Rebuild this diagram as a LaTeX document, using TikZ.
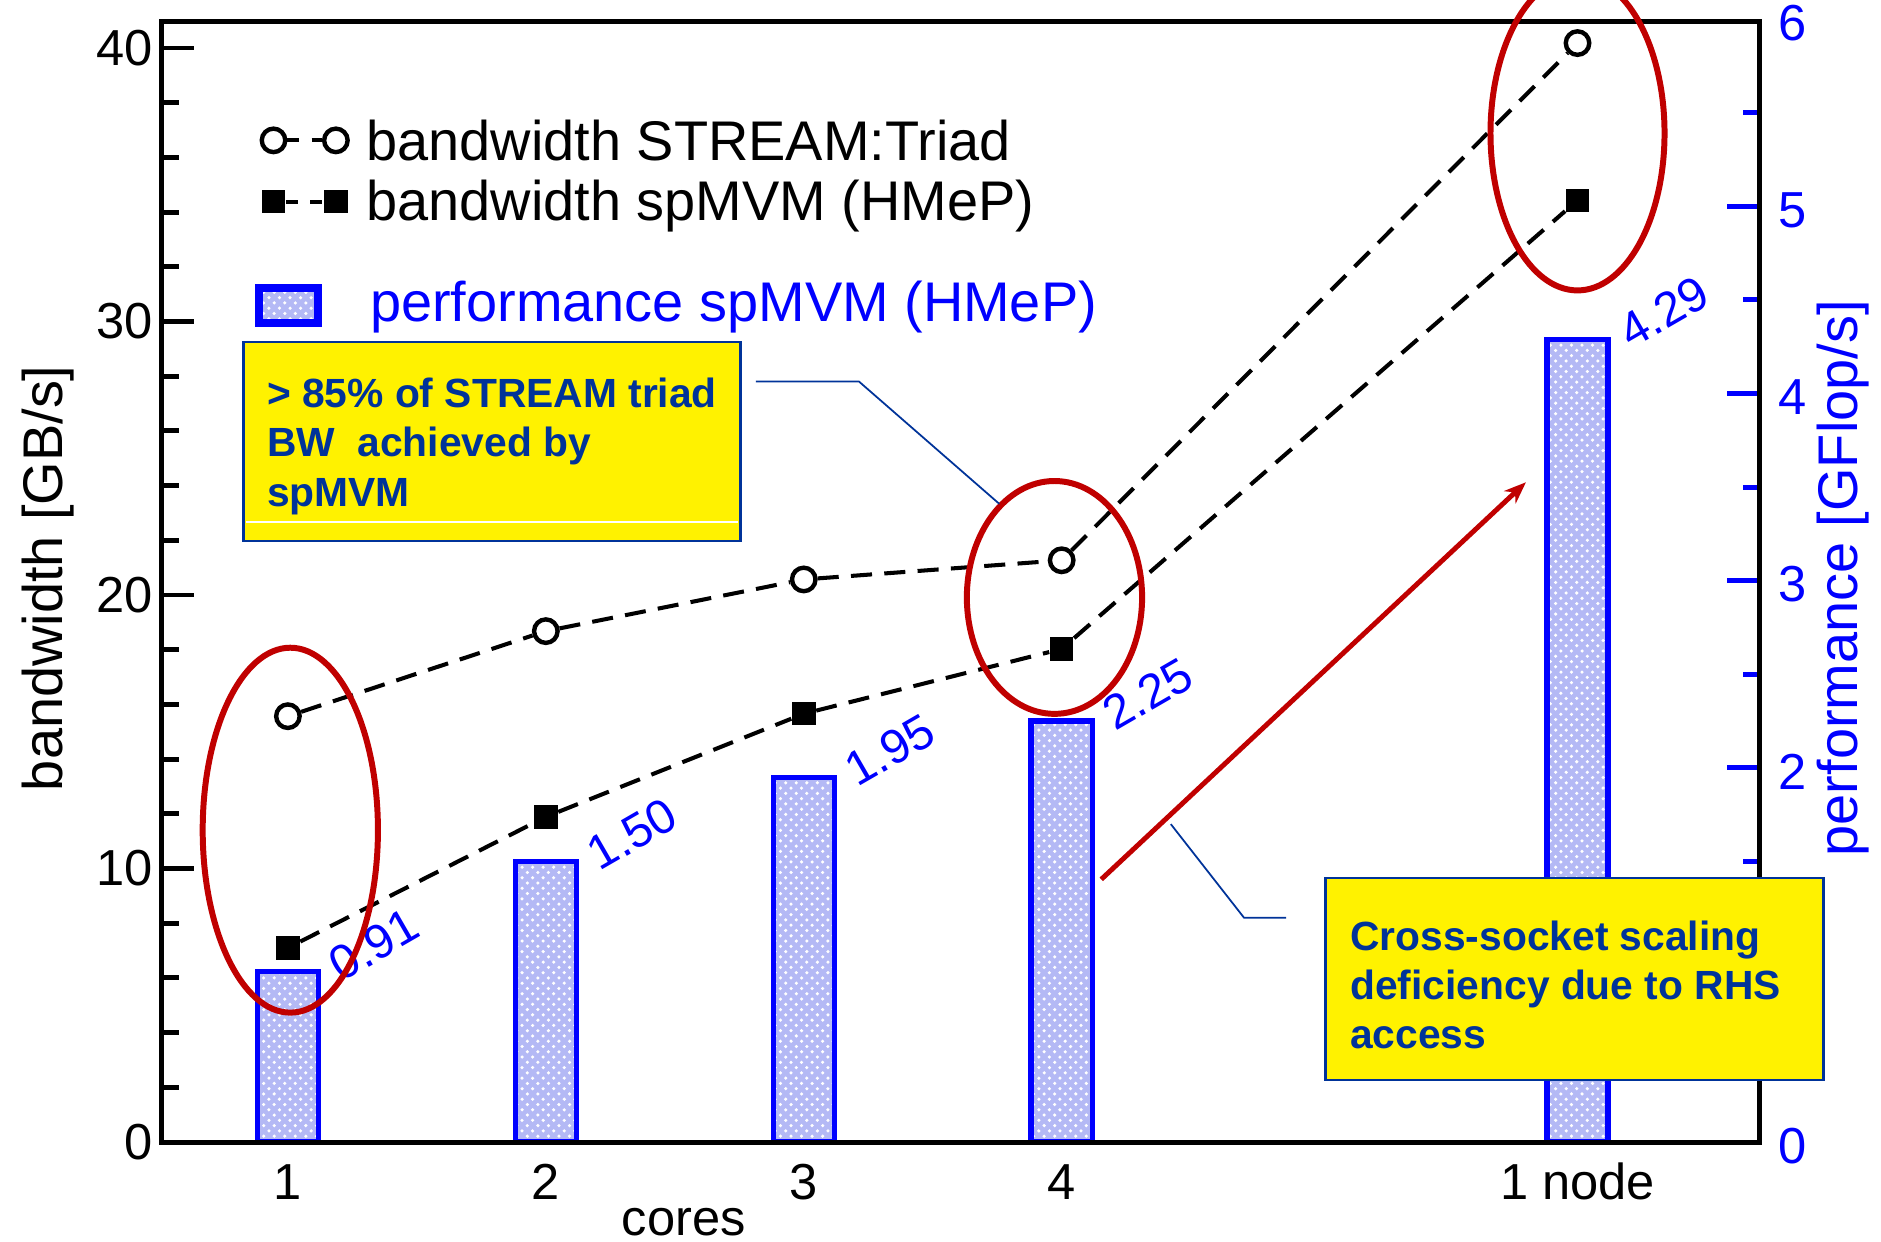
\documentclass[tikz,border=0pt]{standalone}
\usepackage{fontspec}
\setmainfont{Liberation Sans}
\usetikzlibrary{patterns,arrows.meta}
\definecolor{dkred}{RGB}{192,0,0}
\definecolor{callblue}{RGB}{0,51,153}
\definecolor{axblue}{RGB}{0,0,255}
\definecolor{barfill}{RGB}{180,185,245}
\newcommand\mylegfont{\fontsize{15.9}{19}\selectfont}
\newcommand\mytickfont{\fontsize{14.4}{17}\selectfont}
\newcommand\myvalfont{\fontsize{13.7}{16}\selectfont}
\newcommand\myboxfont{\fontsize{11.6}{14}\selectfont\bfseries}
\tikzset{
  frameline/.style={line width=1.4pt},
  tickline/.style={line width=1.4pt},
  rtick/.style={line width=1.4pt, draw=axblue},
  dashline/.style={line width=1.15pt, dash pattern=on 6pt off 3.5pt},
  legdash/.style={line width=1.15pt, dash pattern=on 3.3pt off 3.6pt},
  circmark/.style={circle, draw, fill=white, line width=1.25pt, minimum size=0.235cm, inner sep=0pt},
  sqmark/.style={rectangle, fill=black, minimum size=0.235cm, inner sep=0pt},
  barstyle/.style={draw=axblue, line width=1.5pt, preaction={fill=barfill}, preaction={pattern=crosshatch dots, pattern color=white}},
  redell/.style={draw=dkred, line width=1.7pt},
  ybox/.style={rectangle, draw=callblue, line width=0.7pt, fill=yellow, inner sep=0pt},
  calloutline/.style={draw=callblue, line width=0.5pt},
  boxtext/.style={font=\myboxfont, text=callblue, align=left, inner sep=0pt, anchor=west},
  lticklabel/.style={font=\mytickfont, inner sep=0pt, anchor=east},
  rticklabel/.style={font=\mytickfont, text=axblue, inner sep=0pt, anchor=west},
  xticklabel/.style={font=\mytickfont, inner sep=0pt},
  vlabel/.style={font=\myvalfont, text=axblue, inner sep=0pt, anchor=south west, rotate=30},
}
\begin{document}
\begin{tikzpicture}[x=0.012cm,y=-0.012cm]
\useasboundingbox (0,0) rectangle (1568,1035);
\clip (0,0) rectangle (1568,1035);
\fill[white] (0,0) rectangle (1568,1035);

% bars
\foreach \xx/\pp in {240/0.91, 455/1.50, 670/1.95, 885/2.25, 1315/4.29}{
  \draw[barstyle] (\xx-25.5,952) rectangle (\xx+25.5,{952-156*\pp});
}
\node[vlabel] (v1) at (285,{952-156*0.91+10}) {0.91};
\node[vlabel] (v2) at (500,{952-156*1.50+10}) {1.50};
\node[vlabel] (v3) at (715,{952-156*1.95+10}) {1.95};
\node[vlabel] (v4) at (930,{952-156*2.25+10}) {2.25};
\node[vlabel] (v5) at (1360,{952-156*4.29+10}) {4.29};

% left ticks
\foreach \v in {2,4,6,8,12,14,16,18,22,24,26,28,32,34,36,38}{
  \draw[tickline] (135,{952-22.8*\v}) -- (149,{952-22.8*\v});
}
\foreach \v in {10,20,30,40}{
  \draw[tickline] (135,{952-22.8*\v}) -- (162,{952-22.8*\v});
}
% right ticks
\foreach \v in {0.5,1.5,2.5,3.5,4.5,5.5}{
  \draw[rtick] (1467,{952-156*\v}) -- (1453,{952-156*\v});
}
\foreach \v in {1,2,3,4,5}{
  \draw[rtick] (1467,{952-156*\v}) -- (1440,{952-156*\v});
}

% frame
\draw[frameline] (135,18) rectangle (1467,952);

% tick labels
\foreach \v in {0,10,20,30,40}{
  \node[lticklabel] at (128,{952-22.8*\v}) {\v};
}
\foreach \v in {0,1,2,3,4,5,6}{
  \node[rticklabel] at (1482,{952-156*\v+3}) {\v};
}
\node[xticklabel] (x1) at (240,985) {1};
\node[xticklabel] (x2) at (455,985) {2};
\node[xticklabel] (x3) at (670,985) {3};
\node[xticklabel] (x4) at (885,985) {4};
\node[xticklabel] (x6) at (1315,985) {1 node};
\node[xticklabel] (xt) at (570,1019) {cores};
\node[font=\mylegfont, inner sep=0pt, rotate=90] (yl) at (40,482) {bandwidth [GB/s]};
\node[font=\mylegfont, text=axblue, inner sep=0pt, rotate=90] (yr) at (1536,482) {performance [GFlop/s]};

% data markers
\node[circmark] (t1) at (240,{952-22.8*15.57}) {};
\node[circmark] (t2) at (455,{952-22.8*18.68}) {};
\node[circmark] (t3) at (670,{952-22.8*20.57}) {};
\node[circmark] (t4) at (885,{952-22.8*21.27}) {};
\node[circmark] (t6) at (1315,{952-22.8*40.18}) {};
\node[sqmark] (s1) at (240,{952-22.8*7.1}) {};
\node[sqmark] (s2) at (455,{952-22.8*11.89}) {};
\node[sqmark] (s3) at (670,{952-22.8*15.66}) {};
\node[sqmark] (s4) at (885,{952-22.8*18.03}) {};
\node[sqmark] (s6) at (1315,{952-22.8*34.43}) {};
\draw[dashline] (t1) -- (t2) -- (t3) -- (t4) -- (t6);
\draw[dashline] (s1) -- (s2) -- (s3) -- (s4) -- (s6);

% legend
\node[circmark] (lc1) at (228,117) {};
\node[circmark] (lc2) at (280,117) {};
\draw[legdash] (lc1) -- (lc2);
\node[sqmark] (ls1) at (228,168) {};
\node[sqmark] (ls2) at (280,168) {};
\draw[legdash] (ls1) -- (ls2);
\node[font=\mylegfont, anchor=base west, inner sep=0pt] (lt1) at (305,134) {bandwidth STREAM:Triad};
\node[font=\mylegfont, anchor=base west, inner sep=0pt] (lt2) at (305,184) {bandwidth spMVM (HMeP)};
\draw[barstyle, line width=2.2pt] (216,240) rectangle (265,269);
\node[font=\mylegfont, text=axblue, anchor=base west, inner sep=0pt] (lt3) at (308,268) {performance spMVM (HMeP)};

% ellipses
\draw[redell] (242,692) ellipse [x radius=0.876cm, y radius=1.824cm];
\draw[redell] (879,498) ellipse [x radius=0.876cm, y radius=1.164cm];
\draw[redell] (1315,111) ellipse [x radius=0.87cm, y radius=1.572cm];

% red arrow
\coordinate (ra) at (918,733);
\coordinate (rb) at (1272,402);
\draw[draw=dkred, line width=1.4pt, -{Stealth[length=0.22cm, width=0.17cm]}] (ra) -- (rb);

% callout boxes
\node[ybox, minimum width=4.968cm, minimum height=1.992cm] (box1) at (410,368) {};
\draw[white, line width=0.4pt] (205,435) -- (615,435);
\node[boxtext] (b1t) at (222,372) {> 85\% of STREAM triad\\BW \ achieved by\\spMVM};
\node[ybox, minimum width=4.98cm, minimum height=2.016cm] (box2) at (1312.5,816) {};
\node[boxtext] (b2t) at (1125,821) {Cross-socket scaling\\deficiency due to RHS\\access};

% callout lines
\coordinate (c1a) at (630,318);
\coordinate (c1b) at (716,318);
\coordinate (c1c) at (833,420);
\draw[calloutline] (c1a) -- (c1b) -- (c1c);
\coordinate (c2a) at (1072,765);
\coordinate (c2b) at (1037,765);
\coordinate (c2c) at (976,687);
\draw[calloutline] (c2a) -- (c2b) -- (c2c);
\end{tikzpicture}
\end{document}
